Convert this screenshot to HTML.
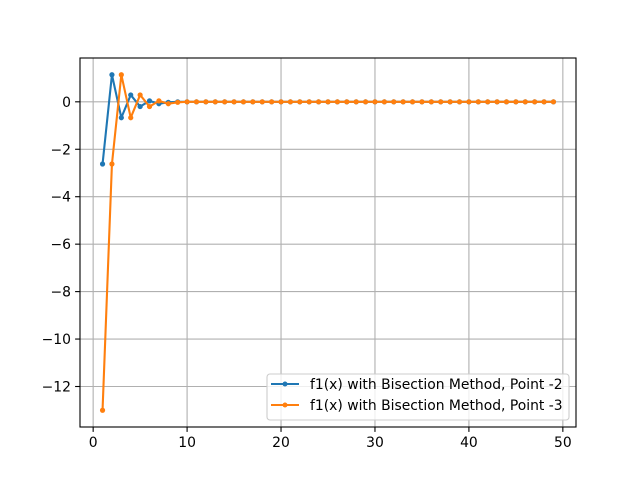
<!DOCTYPE html>
<html><head><meta charset="utf-8"><style>
html,body{margin:0;padding:0;background:#fff;}
svg text{font-family:"DejaVu Sans","Liberation Sans",sans-serif;font-size:13.9px;fill:#000;}
</style></head><body>
<svg id="chart" width="640" height="480" xmlns="http://www.w3.org/2000/svg">
<rect width="640" height="480" fill="#fff"/>
<g id="grid"></g>
<g id="series"></g>
<rect x="80" y="58" width="496" height="369" fill="none" stroke="#000" stroke-width="1.1"/>
<g id="ticks"></g>
<g>
<rect x="267" y="374" width="302" height="46" rx="3" fill="#fff" fill-opacity="0.8" stroke="#ccc" stroke-width="1.1"/>
<g>
<line x1="271" y1="384" x2="299" y2="384" stroke="#1f77b4" stroke-width="2.1"/><circle cx="285" cy="384" r="2.5" fill="#1f77b4"/>
<text x="310" y="389">f1(x) with Bisection Method, Point -2</text></g>
<g>
<line x1="271" y1="405" x2="299" y2="405" stroke="#ff7f0e" stroke-width="2.1"/><circle cx="285" cy="405" r="2.5" fill="#ff7f0e"/>
<text x="310" y="410">f1(x) with Bisection Method, Point -3</text></g>
</g>
</svg>
<script>
const seriesNames = ["Point -2", "Point -3"];
const blueValues = [-2.62, 1.14, -0.67, 0.29, -0.2, 0.04, -0.08, -0.02, 0, 0, 0, 0, 0, 0, 0, 0, 0, 0, 0, 0, 0, 0, 0, 0, 0, 0, 0, 0, 0, 0, 0, 0, 0, 0, 0, 0, 0, 0, 0, 0, 0, 0, 0, 0, 0, 0, 0, 0, 0];
const orangeValues = [-13.0, -2.62, 1.14, -0.67, 0.29, -0.2, 0.04, -0.08, -0.02, 0, 0, 0, 0, 0, 0, 0, 0, 0, 0, 0, 0, 0, 0, 0, 0, 0, 0, 0, 0, 0, 0, 0, 0, 0, 0, 0, 0, 0, 0, 0, 0, 0, 0, 0, 0, 0, 0, 0, 0];
const xTicks = [0, 10, 20, 30, 40, 50];
const yTicks = [0, -2, -4, -6, -8, -10, -12];

const NS = "http://www.w3.org/2000/svg";
const L = 80, R = 576, T = 58, B = 427;
const allV = blueValues.concat(orangeValues);
const n = Math.max(blueValues.length, orangeValues.length);
const xmin0 = 1, xmax0 = n, xm = (xmax0 - xmin0) * 0.05;
const ymin0 = Math.min(...allV), ymax0 = Math.max(...allV), ym = (ymax0 - ymin0) * 0.05;
const xs = v => L + (v - (xmin0 - xm)) / ((xmax0 + xm) - (xmin0 - xm)) * (R - L);
const ys = v => B - (v - (ymin0 - ym)) / ((ymax0 + ym) - (ymin0 - ym)) * (B - T);
function mk(tag, attrs, parent) { const e = document.createElementNS(NS, tag); for (const k in attrs) e.setAttribute(k, attrs[k]); parent.appendChild(e); return e; }
const grid = document.getElementById("grid"), ticks = document.getElementById("ticks"), ser = document.getElementById("series");
xTicks.forEach(t => {
  const x = xs(t);
  const g = mk("line", {x1: x, x2: x, y1: T, y2: B, stroke: "#b0b0b0", "stroke-width": 1.1}, grid);
  
  
  mk("line", {x1: x, x2: x, y1: B, y2: B + 4.9, stroke: "#000", "stroke-width": 1.1}, ticks);
  const tx = mk("text", {x: x, y: B + 20, "text-anchor": "middle"}, ticks);
  tx.textContent = String(t);
  
  
});
yTicks.forEach(t => {
  const y = ys(t);
  const g = mk("line", {x1: L, x2: R, y1: y, y2: y, stroke: "#b0b0b0", "stroke-width": 1.1}, grid);
  
  
  mk("line", {x1: L - 4.9, x2: L, y1: y, y2: y, stroke: "#000", "stroke-width": 1.1}, ticks);
  const tx = mk("text", {x: L - 9, y: y + 5, "text-anchor": "end"}, ticks);
  tx.textContent = t < 0 ? "\u2212" + Math.abs(t) : String(t);
  
  
});
[[blueValues, "#1f77b4"], [orangeValues, "#ff7f0e"]].forEach(([vals, c], si) => {
  const g = mk("g", {}, ser);
  
  
  const pts = vals.map((v, i) => xs(i + 1) + "," + ys(v)).join(" ");
  const pl = mk("polyline", {points: pts, fill: "none", stroke: c, "stroke-width": 2.1, "stroke-linejoin": "round"}, g);
  
  
  vals.forEach((v, i) => {
    const p = mk("circle", {cx: xs(i + 1), cy: ys(v), r: 2.6, fill: c}, g);
    
    
  });
});
</script>
</body></html>
